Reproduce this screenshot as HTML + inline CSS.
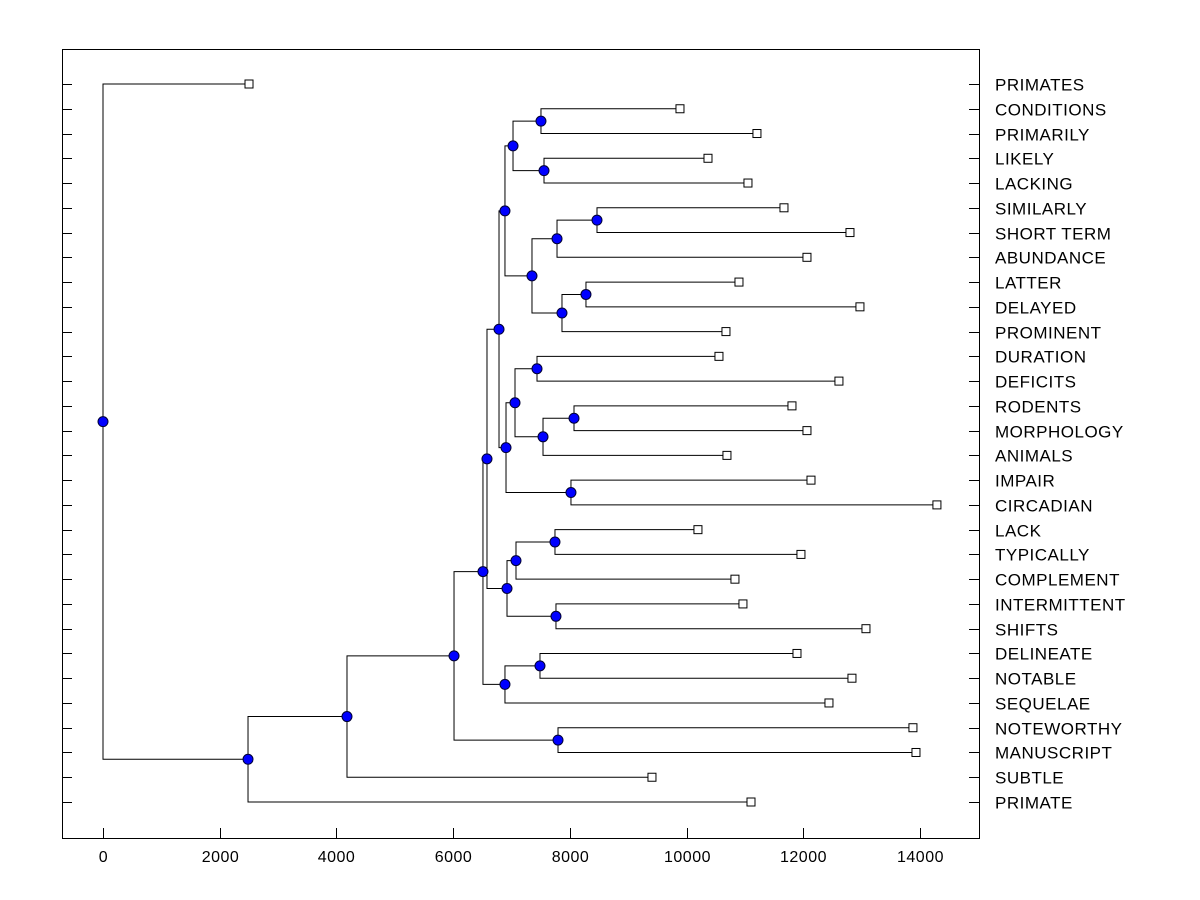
<!DOCTYPE html>
<html><head><meta charset="utf-8"><style>body{margin:0;background:#fff}svg{display:block}text{font-family:"Liberation Sans",Arial,sans-serif}</style></head>
<body>
<svg id="chart" width="1200" height="900" viewBox="0 0 1200 900" xmlns="http://www.w3.org/2000/svg">
<rect width="1200" height="900" fill="#fff"/>
<g id="g"></g>
</svg>
<script>
const leafNames = ["PRIMATES","CONDITIONS","PRIMARILY","LIKELY","LACKING","SIMILARLY","SHORT TERM","ABUNDANCE","LATTER","DELAYED","PROMINENT","DURATION","DEFICITS","RODENTS","MORPHOLOGY","ANIMALS","IMPAIR","CIRCADIAN","LACK","TYPICALLY","COMPLEMENT","INTERMITTENT","SHIFTS","DELINEATE","NOTABLE","SEQUELAE","NOTEWORTHY","MANUSCRIPT","SUBTLE","PRIMATE"];
const leafValues = [2502,9887,11206,10367,11052,11669,12800,12063,10898,12971,10675,10555,12611,11806,12063,10692,12132,14290,10195,11960,10829,10966,13074,11892,12834,12440,13879,13931,9407,11104];
// internal nodes: [name, height, child1, child2]; children: leaf index (number) or node name
const nodes = [
["W",7505,1,2],["X",7557,3,4],["U",7026,"W","X"],
["AA",8465,5,6],["Y",7780,"AA",7],["AB",8276,8,9],["Z",7865,"AB",10],["V",7351,"Y","Z"],
["N",6888,"U","V"],
["R",7437,11,12],["T",8071,13,14],["S",7540,"T",15],["P",7060,"R","S"],["Q",8019,16,17],["O",6906,"P","Q"],
["I",6786,"N","O"],
["M",7745,18,19],["K",7077,"M",20],["L",7762,21,22],["J",6923,"K","L"],
["F",6580,"I","J"],
["H",7488,23,24],["G",6888,"H",25],["D",6511,"F","G"],
["E",7797,26,27],["C",6015,"D","E"],["B",4181,"C",28],["A",2485,"B",29],["ROOT",0,0,"A"]
];
const xTicks = [0,2000,4000,6000,8000,10000,12000,14000];

const L=62,R=979,T=49,B=838;
const xs=v=>103+v*(817/14000);
const ys=i=>84+i*(718/29);
const g=document.getElementById('g');
const NS='http://www.w3.org/2000/svg';
function mk(tag,attrs,name){const e=document.createElementNS(NS,tag);for(const k in attrs)e.setAttribute(k,attrs[k]);


g.appendChild(e);return e;}
mk('rect',{x:L+0.5,y:T+0.5,width:R-L,height:B-T,fill:'none',stroke:'#000','stroke-width':1},'plot-frame');
leafNames.forEach((n,i)=>{const y=Math.round(ys(i))+0.5;
mk('line',{x1:L,x2:L+10,y1:y,y2:y,stroke:'#000'},'y-tick-left');
mk('line',{x1:R-10,x2:R,y1:y,y2:y,stroke:'#000'},'y-tick-right');
const t=mk('text',{x:995,y:y+6,'font-size':17,'letter-spacing':0.5},'leaf-label');t.textContent=n;});
xTicks.forEach(v=>{const x=Math.round(xs(v))+0.5;
mk('line',{x1:x,x2:x,y1:B-10,y2:B,stroke:'#000'},'x-tick');
const t=mk('text',{x:x,y:862,'font-size':16,'letter-spacing':0.5,'text-anchor':'middle'},'x-tick-label');t.textContent=v;});
const pos={};
const dots=[];
nodes.forEach(([nm,h,a,b])=>{
  const get=c=>typeof c==='number'?{x:xs(leafValues[c]),y:ys(c)}:pos[c];
  const pa=get(a),pb=get(b),x=xs(h);
  const y=(pa.y+pb.y)/2;pos[nm]={x,y};
  mk('polyline',{points:`${pa.x},${pa.y} ${x},${pa.y} ${x},${pb.y} ${pb.x},${pb.y}`,fill:'none',stroke:'#000','stroke-width':1},'branch-'+nm);
  dots.push([nm,x,y]);
});
leafValues.forEach((v,i)=>{mk('rect',{x:xs(v)-4,y:ys(i)-4,width:8,height:8,fill:'#fff',stroke:'#000'},'leaf-marker');});
dots.forEach(([nm,x,y])=>{mk('circle',{cx:x,cy:y,r:5,fill:'#0000ff',stroke:'#000033','stroke-width':1},'node-marker-'+nm);});
</script>
</body></html>
